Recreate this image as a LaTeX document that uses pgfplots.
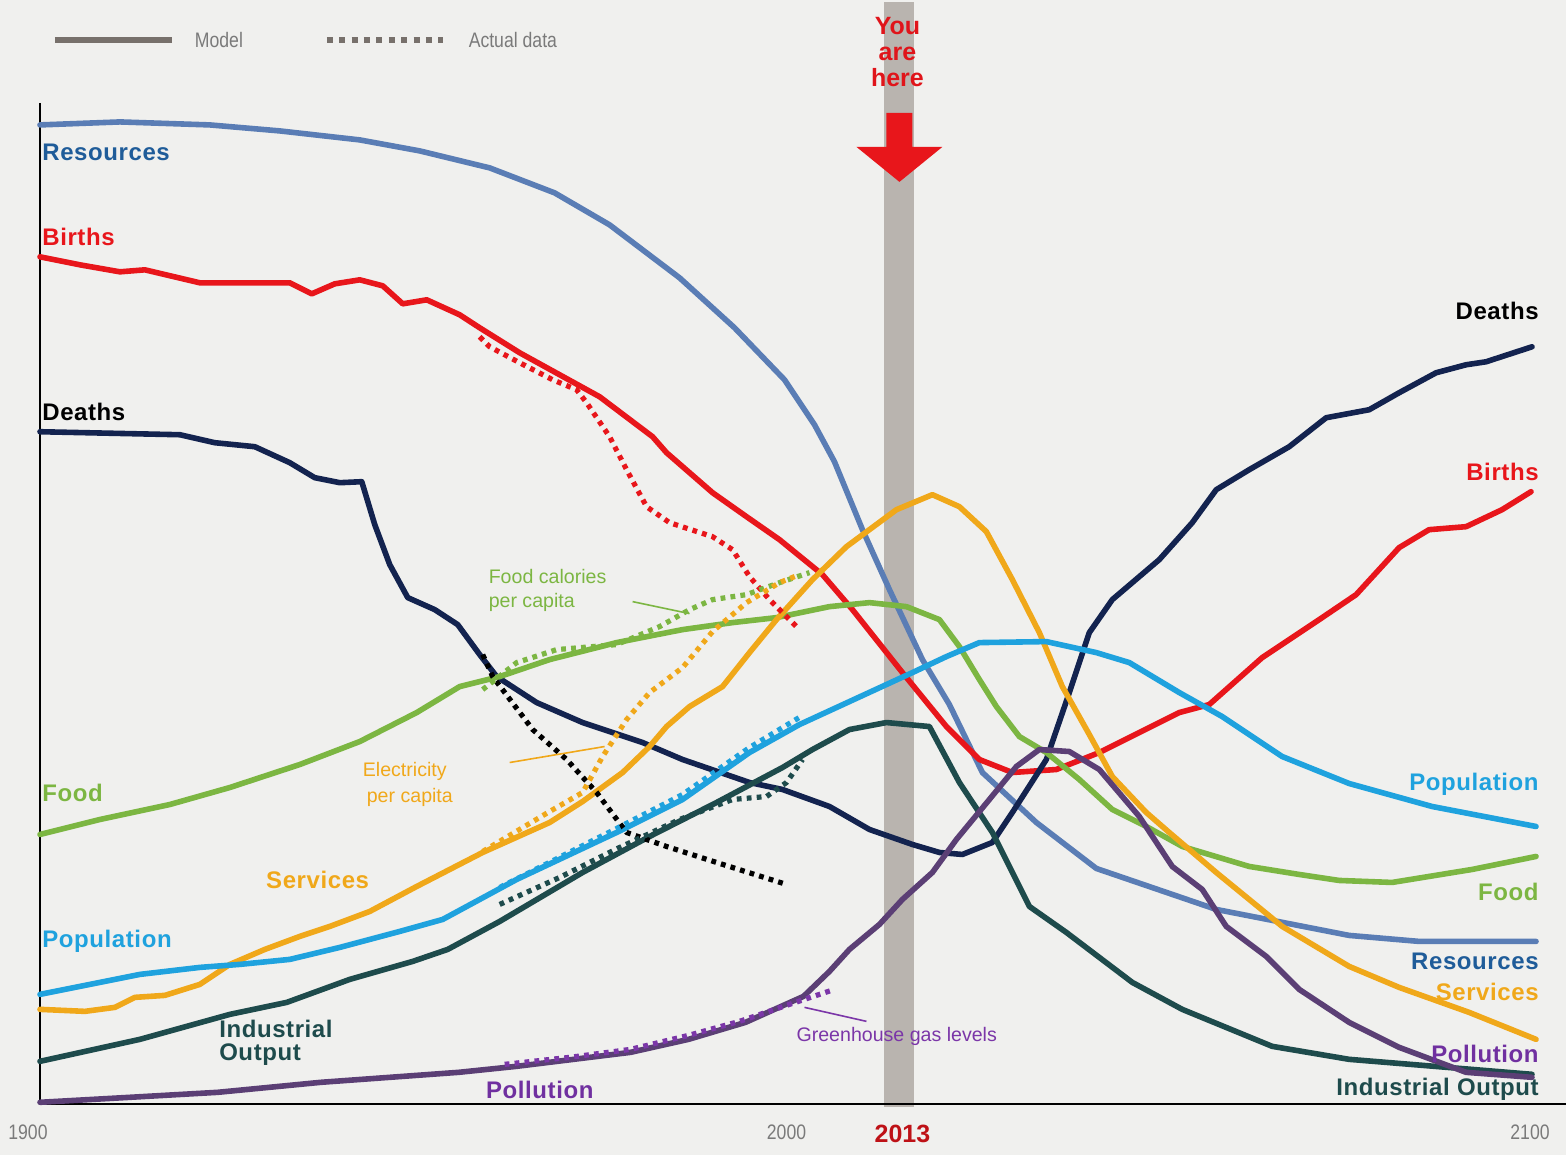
\documentclass[border=0pt]{standalone}
\usepackage{pgfplots}
\pgfplotsset{compat=1.18}
\usepackage{fontspec}
\setmainfont{Liberation Sans}
\newfontfamily\narrowfont[FakeStretch=0.84]{Liberation Sans}
\newfontfamily\labfont[LetterSpace=2.5]{Liberation Sans}
\definecolor{bg}{HTML}{F0F0EE}
\definecolor{cres}{HTML}{5A7DB5}
\definecolor{cresL}{HTML}{1F5C99}
\definecolor{cbirth}{HTML}{E8161B}
\definecolor{cdeath}{HTML}{13234F}
\definecolor{cfood}{HTML}{7CB642}
\definecolor{cserv}{HTML}{F0A81A}
\definecolor{cpop}{HTML}{1FA2DE}
\definecolor{cind}{HTML}{1E4B4C}
\definecolor{cpol}{HTML}{5B3F75}
\definecolor{cpolA}{HTML}{7B36A8}
\definecolor{cpolL}{HTML}{7030A0}
\definecolor{band}{HTML}{B9B4AF}
\definecolor{legg}{HTML}{77706B}
\definecolor{tickg}{HTML}{7A7A7A}
\definecolor{redtxt}{HTML}{E0141A}
\tikzset{
  model/.style={line width=2.8pt, line join=round, line cap=round},
  actual/.style={line width=2.6pt, dash pattern=on 2.4pt off 2.6pt, line join=round},
  lab/.style={font=\labfont\fontsize{12}{14}\selectfont\bfseries, inner xsep=1pt},
  ann/.style={font=\fontsize{9.8}{12}\selectfont, anchor=west},
}
\begin{document}
\begin{tikzpicture}
\begin{axis}[
  scale only axis, width=783.5pt, height=578pt,
  xmin=0, xmax=1567, ymin=0, ymax=1156, y dir=reverse,
  axis lines=none, clip=false,
  axis background/.style={fill=bg},
]
% year band and arrow
\addplot[fill=band, draw=none] coordinates {(885,2)(915,2)(915,1108)(885,1108)};
\addplot[fill=cbirth, draw=none] coordinates {(887,113)(913,113)(913,147)(943,147)(900,182)(857,147)(887,147)};
% axis lines
\addplot[black, line width=1pt] coordinates {(40,103)(40,1105)(1567,1105)};
% legend
\addplot[legg, line width=3pt] coordinates {(55,40)(172,40)};
\addplot[legg, line width=3pt, dash pattern=on 3pt off 3.2pt] coordinates {(327,40)(443,40)};
% Resources
\addplot[model, cres] coordinates {(40,125)(120,122)(210,125)(280,131)(360,140)(420,151)(490,168)(555,193)(610,225)(680,278)(735,328)(785,380)(815,425)(835,462)(863,530)(890,590)(923,660)(950,705)(983,773)(1037,823)(1097,869)(1217,910)(1350,936)(1420,942)(1537,942)};
% Births
\addplot[model, cbirth] coordinates {(40,257)(80,265)(120,272)(145,270)(200,283)(290,283)(312,294)(335,284)(360,280)(383,286)(403,304)(427,300)(460,315)(480,328)(520,353)(560,375)(600,397)(653,437)(667,453)(713,493)(747,517)(780,540)(823,575)(853,610)(903,673)(947,727)(980,760)(1013,773)(1057,770)(1100,753)(1180,713)(1210,705)(1263,658)(1323,618)(1357,595)(1400,548)(1430,530)(1467,527)(1503,510)(1532,492)};
% Deaths
\addplot[model, cdeath] coordinates {(40,432)(180,435)(215,443)(255,447)(290,463)(315,478)(340,483)(362,482)(375,525)(390,565)(408,598)(435,610)(458,625)(480,655)(497,677)(537,703)(583,723)(643,743)(683,760)(750,783)(783,790)(830,807)(870,830)(913,845)(940,853)(963,855)(993,843)(1013,813)(1047,760)(1070,693)(1090,633)(1113,600)(1160,560)(1193,523)(1217,490)(1250,470)(1290,447)(1327,418)(1370,410)(1400,393)(1437,373)(1467,365)(1487,362)(1533,347)};
% Food
\addplot[model, cfood] coordinates {(40,835)(100,820)(170,805)(230,788)(300,765)(360,742)(417,713)(460,687)(500,677)(550,660)(617,643)(683,630)(733,623)(777,618)(830,607)(870,603)(907,607)(940,620)(960,647)(980,680)(997,707)(1020,737)(1047,753)(1080,780)(1113,810)(1147,827)(1183,847)(1250,867)(1300,875)(1340,881)(1393,883)(1473,870)(1537,857)};
% Services
\addplot[model, cserv] coordinates {(40,1010)(85,1012)(115,1008)(135,998)(165,996)(200,985)(230,965)(265,950)(300,937)(330,927)(370,912)(417,887)(483,853)(550,823)(583,802)(623,773)(650,747)(667,727)(690,707)(723,687)(750,653)(777,620)(813,580)(847,547)(897,510)(933,495)(960,507)(987,532)(1013,580)(1040,633)(1063,687)(1090,735)(1113,777)(1147,813)(1170,833)(1217,873)(1283,927)(1350,967)(1400,988)(1470,1013)(1537,1040)};
% Population
\addplot[model, cpop] coordinates {(40,995)(90,985)(140,975)(200,968)(240,965)(290,960)(340,948)(400,932)(443,920)(517,880)(617,833)(683,800)(750,753)(800,725)(850,702)(913,673)(947,657)(980,643)(1047,642)(1097,653)(1130,663)(1180,693)(1223,717)(1283,757)(1350,784)(1433,807)(1537,827)};
% Industrial output
\addplot[model, cind] coordinates {(40,1062)(140,1040)(230,1015)(287,1003)(350,980)(413,962)(448,950)(500,922)(583,873)(650,837)(717,803)(783,768)(813,750)(850,730)(887,723)(930,727)(960,783)(993,833)(1030,907)(1067,933)(1133,983)(1183,1010)(1273,1047)(1350,1060)(1533,1075)};
% Pollution
\addplot[model, cpol] coordinates {(40,1103)(130,1098)(218,1093)(321,1083)(459,1073)(517,1067)(631,1053)(689,1040)(746,1023)(804,997)(830,972)(850,950)(880,925)(903,900)(933,873)(957,840)(990,800)(1017,767)(1040,750)(1070,752)(1100,770)(1140,817)(1173,867)(1203,890)(1227,927)(1267,957)(1300,990)(1350,1023)(1400,1048)(1467,1073)(1533,1078)};
% Actual data
\addplot[actual, cbirth] coordinates {(480,337)(490,347)(520,363)(553,380)(577,390)(587,403)(610,437)(627,470)(647,507)(670,523)(713,537)(733,550)(750,577)(770,600)(797,627)};
\addplot[actual, black] coordinates {(483,655)(493,677)(533,730)(567,760)(597,793)(627,833)(667,847)(717,863)(787,885)};
\addplot[actual, cfood] coordinates {(483,690)(517,663)(557,650)(617,645)(660,627)(690,610)(713,600)(747,595)(780,583)(810,573)};
\addplot[actual, cserv] coordinates {(483,852)(550,812)(583,793)(603,757)(627,720)(650,693)(683,668)(713,632)(747,603)(780,583)(800,575)};
\addplot[actual, cpop] coordinates {(500,888)(617,829)(683,795)(750,748)(803,716)};
\addplot[actual, cind] coordinates {(500,905)(560,878)(620,848)(680,820)(733,800)(767,797)(787,783)(803,760)};
\addplot[actual, cpolA] coordinates {(505,1065)(570,1058)(631,1050)(689,1036)(740,1022)(790,1005)(835,990)};
% pointer lines
\addplot[cfood, line width=0.8pt] coordinates {(633,602)(690,614)};
\addplot[cserv, line width=0.8pt] coordinates {(510,763)(605,747)};
\addplot[cpolA, line width=0.8pt] coordinates {(805,1008)(867,1022)};

% legend text
\node[anchor=west, text=tickg, font=\narrowfont\fontsize{10.5}{12}\selectfont] at (axis cs:188,40) {Model};
\node[anchor=west, text=tickg, font=\narrowfont\fontsize{10.5}{12}\selectfont] at (axis cs:462,40) {Actual data};
% you are here
\node[text=redtxt, font=\fontsize{12.5}{13}\selectfont\bfseries, align=center] at (axis cs:898,52) {You\\are\\here};
% tick labels
\node[text=tickg, font=\narrowfont\fontsize{10.5}{12}\selectfont] at (axis cs:28,1133) {1900};
\node[text=tickg, font=\narrowfont\fontsize{10.5}{12}\selectfont] at (axis cs:787,1133) {2000};
\node[text=tickg, font=\narrowfont\fontsize{10.5}{12}\selectfont] at (axis cs:1531,1133) {2100};
\node[text=redtxt!85!black, font=\fontsize{12.5}{13}\selectfont\bfseries] at (axis cs:903,1135) {2013};
% left labels
\node[lab, anchor=west, text=cresL] at (axis cs:40,152) {Resources};
\node[lab, anchor=west, text=cbirth] at (axis cs:40,237) {Births};
\node[lab, anchor=west, text=black] at (axis cs:40,412) {Deaths};
\node[lab, anchor=west, text=cfood] at (axis cs:40,793) {Food};
\node[lab, anchor=west, text=cserv] at (axis cs:264,880) {Services};
\node[lab, anchor=west, text=cpop] at (axis cs:40,942) {Population};
\node[lab, anchor=west, text=cind] at (axis cs:217,1030) {Industrial};
\node[lab, anchor=west, text=cind] at (axis cs:217,1055) {Output};
\node[lab, anchor=west, text=cpolL] at (axis cs:484,1091) {Pollution};
% right labels
\node[lab, anchor=east, text=black] at (axis cs:1542,311) {Deaths};
\node[lab, anchor=east, text=cbirth] at (axis cs:1542,472) {Births};
\node[lab, anchor=east, text=cpop] at (axis cs:1542,785) {Population};
\node[lab, anchor=east, text=cfood] at (axis cs:1542,892) {Food};
\node[lab, anchor=east, text=cresL] at (axis cs:1542,962) {Resources};
\node[lab, anchor=east, text=cserv] at (axis cs:1542,993) {Services};
\node[lab, anchor=east, text=cpolL] at (axis cs:1542,1055) {Pollution};
\node[lab, anchor=east, text=cind] at (axis cs:1542,1090) {Industrial Output};
% annotations
\node[ann, text=cfood] at (axis cs:482,577) {Food calories};
\node[ann, text=cfood] at (axis cs:482,603) {per capita};
\node[ann, text=cserv] at (axis cs:356,772) {Electricity};
\node[ann, text=cserv] at (axis cs:360,798) {per capita};
\node[ann, text=cpolA] at (axis cs:790,1037) {Greenhouse gas levels};
\end{axis}
\end{tikzpicture}
\end{document}
